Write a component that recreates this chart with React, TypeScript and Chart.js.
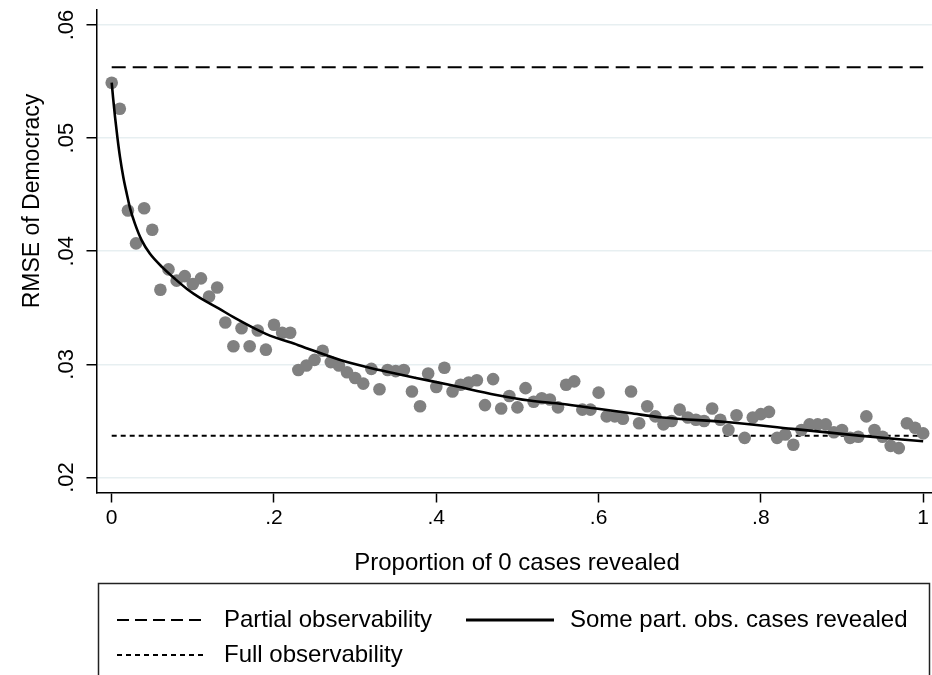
import React, { useEffect, useRef } from "react";
import { Chart, registerables } from "chart.js";

Chart.register(...registerables);

const FONT = "'Liberation Sans', Arial, Helvetica, sans-serif";

// Scatter: RMSE of Democracy by proportion of 0 cases revealed
const pointX = [
  0.0, 0.01, 0.02, 0.03, 0.04, 0.05, 0.06, 0.07, 0.08, 0.09,
  0.1, 0.11, 0.12, 0.13, 0.14, 0.15, 0.16, 0.17, 0.18, 0.19,
  0.2, 0.21, 0.22, 0.23, 0.24, 0.25, 0.26, 0.27, 0.28, 0.29,
  0.3, 0.31, 0.32, 0.33, 0.34, 0.35, 0.36, 0.37, 0.38, 0.39,
  0.4, 0.41, 0.42, 0.43, 0.44, 0.45, 0.46, 0.47, 0.48, 0.49,
  0.5, 0.51, 0.52, 0.53, 0.54, 0.55, 0.56, 0.57, 0.58, 0.59,
  0.6, 0.61, 0.62, 0.63, 0.64, 0.65, 0.66, 0.67, 0.68, 0.69,
  0.7, 0.71, 0.72, 0.73, 0.74, 0.75, 0.76, 0.77, 0.78, 0.79,
  0.8, 0.81, 0.82, 0.83, 0.84, 0.85, 0.86, 0.87, 0.88, 0.89,
  0.9, 0.91, 0.92, 0.93, 0.94, 0.95, 0.96, 0.97, 0.98, 0.99,
  1.0,
];
const pointY = [
  0.0549, 0.0526, 0.0436, 0.0407, 0.0438, 0.0419, 0.0366, 0.0384, 0.0374, 0.0378,
  0.0371, 0.0376, 0.036, 0.0368, 0.0337, 0.0316, 0.0332, 0.0316, 0.033, 0.0313,
  0.0335, 0.0328, 0.0328, 0.0295, 0.0299, 0.0304, 0.0312, 0.0302, 0.0299, 0.0293,
  0.0288, 0.0283, 0.0296, 0.0278, 0.0295, 0.0294, 0.0295, 0.0276, 0.0263, 0.0292,
  0.028, 0.0297, 0.0276, 0.0282, 0.0284, 0.0286, 0.0264, 0.0287, 0.0261, 0.0272,
  0.0262, 0.0279, 0.0267, 0.027, 0.0269, 0.0262, 0.0282, 0.0285, 0.026, 0.026,
  0.0275, 0.0254, 0.0254, 0.0252, 0.0276, 0.0248, 0.0263, 0.0254, 0.0247, 0.025,
  0.026, 0.0253, 0.0251, 0.025, 0.0261, 0.0251, 0.0242, 0.0255, 0.0235, 0.0253,
  0.0256, 0.0258, 0.0235, 0.0238, 0.0229, 0.0242, 0.0247, 0.0247, 0.0247, 0.024,
  0.0242, 0.0235, 0.0236, 0.0254, 0.0242, 0.0236, 0.0228, 0.0226, 0.0248, 0.0244,
  0.0239,
];

// Fitted curve "Some part. obs. cases revealed"
const curveX = [
  0, 0.0016, 0.0041, 0.0071, 0.0102, 0.0145, 0.0189, 0.0225, 0.0287, 0.037,
  0.0472, 0.0632, 0.078, 0.0928, 0.1088, 0.1318, 0.1495, 0.19, 0.23, 0.29,
  0.33, 0.375, 0.416, 0.474, 0.515, 0.556, 0.597, 0.638, 0.679, 0.757,
  0.839, 0.921, 1.0,
];
const curveY = [
  0.0549, 0.05364, 0.05187, 0.05002, 0.04834, 0.04648, 0.04498, 0.04383, 0.04242, 0.04096,
  0.03977, 0.03853, 0.03756, 0.03667, 0.03588, 0.03495, 0.0342, 0.0327, 0.0317, 0.0302,
  0.0295, 0.0288, 0.0282, 0.0273, 0.0268, 0.0265, 0.0261, 0.0257, 0.0253, 0.0249,
  0.0243, 0.0237, 0.0232,
];

const partialObsValue = 0.05626;
const fullObsValue = 0.02369;

const xTicks = [0, 0.2, 0.4, 0.6, 0.8, 1];
const xTickLabels = ["0", ".2", ".4", ".6", ".8", "1"];
const yTicks = [0.02, 0.03, 0.04, 0.05, 0.06];
const yTickLabels = [".02", ".03", ".04", ".05", ".06"];

const xTitle = "Proportion of 0 cases revealed";
const yTitle = "RMSE of Democracy";
const legendPartial = "Partial observability";
const legendFull = "Full observability";
const legendCurve = "Some part. obs. cases revealed";

const W = 932;
const H = 675;

const overlayPlugin = {
  id: "overlay",
  afterDraw(chart: any) {
    const ctx = chart.ctx as CanvasRenderingContext2D;
    const ys = chart.scales.y;
    ctx.save();
    ctx.fillStyle = "#000";
    // y tick labels (rotated)
    ctx.font = `22px ${FONT}`;
    yTicks.forEach((v, i) => {
      const py = ys.getPixelForValue(v);
      ctx.save();
      ctx.translate(67, py);
      ctx.rotate(-Math.PI / 2);
      ctx.textAlign = "center";
      ctx.textBaseline = "middle";
      ctx.fillText(yTickLabels[i], 0, 0);
      ctx.restore();
    });
    // y title
    ctx.font = `23px ${FONT}`;
    ctx.save();
    ctx.translate(33, 201);
    ctx.rotate(-Math.PI / 2);
    ctx.textAlign = "center";
    ctx.textBaseline = "middle";
    ctx.fillText(yTitle, 0, 0);
    ctx.restore();
    // x title
    ctx.font = `24px ${FONT}`;
    ctx.textAlign = "center";
    ctx.textBaseline = "middle";
    ctx.fillText(xTitle, 517, 563);

    // legend box
    ctx.strokeStyle = "#222";
    ctx.lineWidth = 1.5;
    ctx.strokeRect(98.5, 583.5, 831, 130);

    const drawSample = (x0: number, x1: number, y: number, dash: number[], lw: number) => {
      ctx.save();
      ctx.beginPath();
      ctx.setLineDash(dash);
      ctx.lineWidth = lw;
      ctx.strokeStyle = "#000";
      ctx.moveTo(x0, y);
      ctx.lineTo(x1, y);
      ctx.stroke();
      ctx.restore();
    };
    drawSample(117, 207, 620, [12, 6], 2);
    drawSample(466, 554, 620, [], 3);
    drawSample(117, 207, 655, [5, 4], 2);

    ctx.textAlign = "left";
    ctx.textBaseline = "middle";
    ctx.fillText(legendPartial, 224, 620);
    ctx.fillText(legendCurve, 570, 620);
    ctx.fillText(legendFull, 224, 655);
    ctx.restore();
  },
};

export default function App() {
  const ref = useRef<HTMLCanvasElement | null>(null);
  useEffect(() => {
    if (!ref.current) return;
    const chart = new Chart(ref.current, {
      type: "scatter",
      data: {
        datasets: [
          {
            label: legendCurve,
            data: curveX.map((x, i) => ({ x, y: curveY[i] })),
            showLine: true,
            borderColor: "#000",
            borderWidth: 2.6,
            pointRadius: 0,
            cubicInterpolationMode: "monotone",
            order: 0,
          } as any,
          {
            label: "points",
            data: pointX.map((x, i) => ({ x, y: pointY[i] })),
            showLine: false,
            pointRadius: 6.3,
            pointBackgroundColor: "#808080",
            backgroundColor: "#808080",
            pointBorderWidth: 0,
            borderWidth: 0,
            order: 1,
          } as any,
          {
            label: legendPartial,
            data: [
              { x: 0, y: partialObsValue },
              { x: 1, y: partialObsValue },
            ],
            showLine: true,
            borderColor: "#000",
            borderWidth: 2,
            borderDash: [14, 7],
            pointRadius: 0,
            order: 2,
          } as any,
          {
            label: legendFull,
            data: [
              { x: 0, y: fullObsValue },
              { x: 1, y: fullObsValue },
            ],
            showLine: true,
            borderColor: "#000",
            borderWidth: 2,
            borderDash: [5, 4],
            pointRadius: 0,
            order: 3,
          } as any,
        ],
      },
      options: {
        animation: false,
        responsive: false,
        maintainAspectRatio: false,
        layout: { autoPadding: false, padding: { top: 10, right: 0, left: 0, bottom: 0 } },
        plugins: {
          legend: { display: false },
          tooltip: { enabled: false },
        },
        scales: {
          x: {
            type: "linear",
            min: -0.01873,
            max: 1.01072,
            afterBuildTicks: (s: any) => {
              s.ticks = xTicks.map((v) => ({ value: v }));
            },
            afterFit: (s: any) => {
              s.height = H - 492.5;
            },
            grid: {
              drawOnChartArea: false,
              drawTicks: true,
              tickLength: 10,
              tickColor: "#000",
              tickWidth: 1.5,
            },
            border: { color: "#000", width: 1.5 },
            ticks: {
              color: "#000",
              font: { size: 21, family: FONT },
              padding: 3,
              maxRotation: 0,
              callback: (_v: any, i: number) => xTickLabels[i],
            },
          },
          y: {
            type: "linear",
            min: 0.018675,
            max: 0.061325,
            afterBuildTicks: (s: any) => {
              s.ticks = yTicks.map((v) => ({ value: v }));
            },
            afterFit: (s: any) => {
              s.width = 96.5;
            },
            grid: {
              color: "#e7eff1",
              lineWidth: 1.5,
              drawTicks: true,
              tickLength: 10,
              tickColor: "#000",
              tickWidth: 1.5,
            },
            border: { color: "#000", width: 1.5 },
            ticks: { display: false },
          },
        },
      },
      plugins: [overlayPlugin],
    } as any);
    return () => chart.destroy();
  }, []);
  return (
    <div style={{ position: "absolute", left: 0, top: 0, width: W, height: H, background: "#fff" }}>
      <canvas ref={ref} width={W} height={H} style={{ display: "block", width: W, height: H }} />
    </div>
  );
}
